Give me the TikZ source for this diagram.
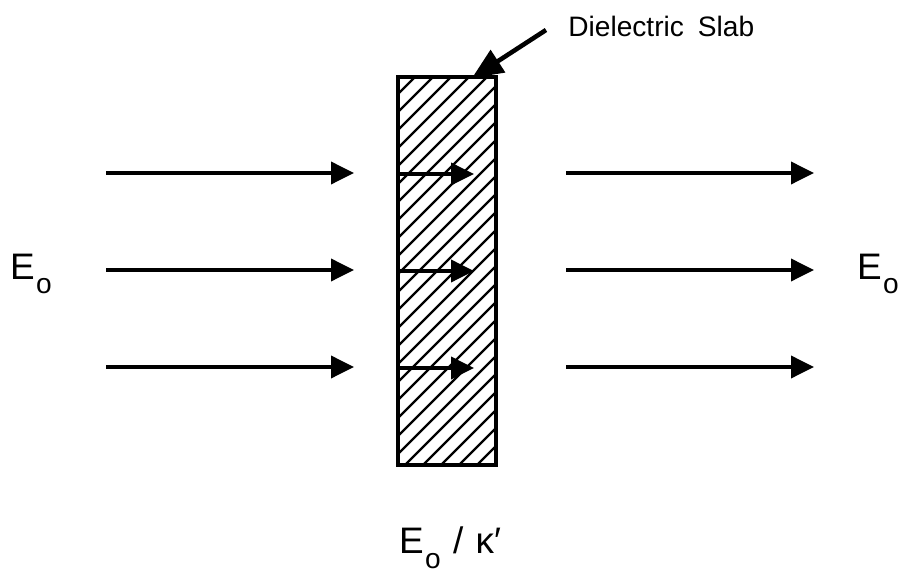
\documentclass[tikz,border=0pt]{standalone}
\usepackage{fontspec}
\setmainfont{Liberation Sans}
\usetikzlibrary{arrows.meta}
\newcommand{\Eo}{E\kern0.8pt\raisebox{-0.75ex}{\fontsize{16}{18}\selectfont o}}
\tikzset{
  field/.style={line width=2.1pt,-{Triangle[length=0.46cm,width=0.44cm]}},
  hatch/.style={line width=1.3pt},
  lbl/.style={font=\fontsize{21}{25}\selectfont,inner sep=0pt},
}
\begin{document}
\begin{tikzpicture}[x=0.02cm,y=-0.02cm]
\useasboundingbox (0,0) rectangle (904,577);
% slab with hatching
\begin{scope}
\clip (398,77) rectangle (496,465);
\foreach \s in {-14,4,...,500}
    \draw[hatch] (\s,470)--(\s+410,60);
\end{scope}
\draw[line width=2.1pt] (398,77) rectangle (496,465);
\coordinate (slabtop) at (472,78);
% field lines
\foreach \y in {173,270,367} {
    \draw[field] (106,\y)--(354,\y);
    \draw[field] (398,\y+1)--(474,\y+1);
    \draw[field] (566,\y)--(814,\y);
}
\node[lbl] (eleft) at (31,274) {\Eo};
\node[lbl] (eright) at (878,274) {\Eo};
\node[lbl] (einside) at (450,548) {\Eo\,\,/\,\,κ′};
\node[anchor=base west,font=\fontsize{16}{19}\selectfont,inner sep=0pt] (slablbl) at (568,37) {Dielectric\hspace{0.5em}Slab};
\coordinate (ptrstart) at (546,30);
\draw[line width=2.6pt,-{Triangle[length=0.62cm,width=0.52cm]}] (ptrstart)--(slabtop);
\end{tikzpicture}
\end{document}
